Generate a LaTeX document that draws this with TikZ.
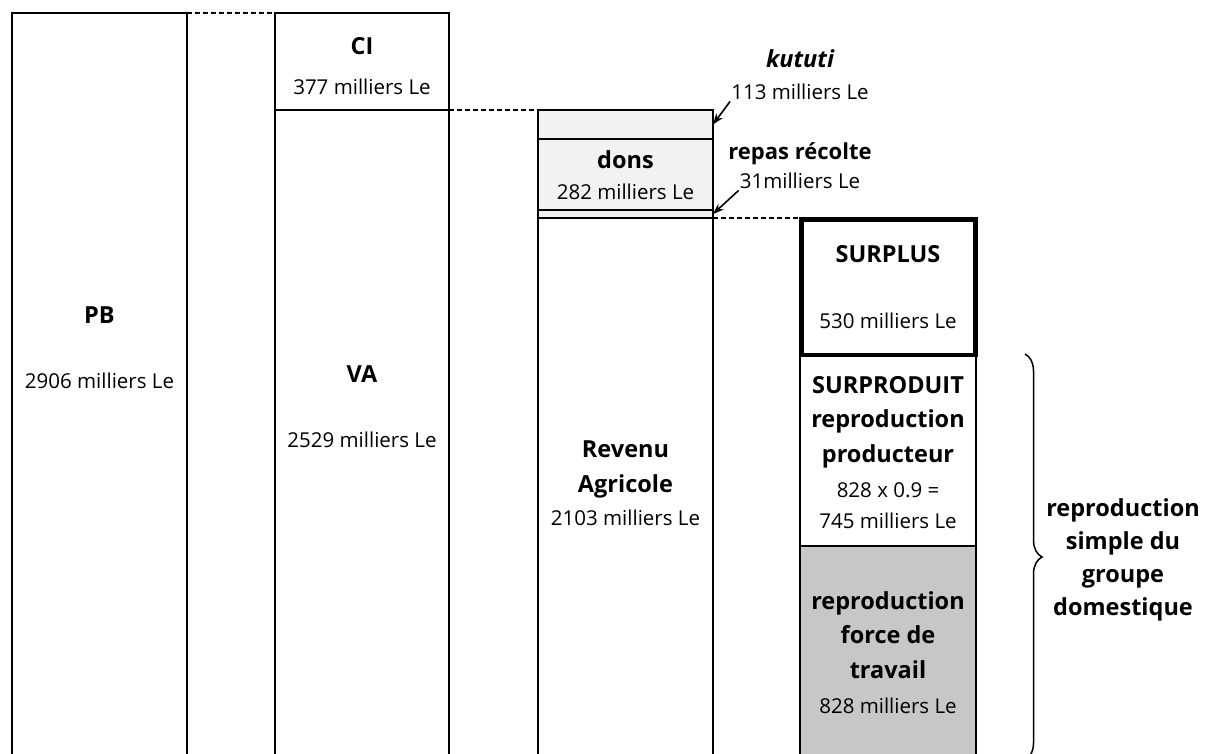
\documentclass[tikz,border=0pt]{standalone}
\usepackage{fontspec}
\setmainfont{Open Sans}
\usetikzlibrary{positioning, arrows.meta, decorations.pathreplacing}

\colorlet{rule}{black}
\colorlet{H1}{black!5}
\colorlet{H2}{black!22}
\tikzset{
  bar/.style      ={draw=rule, line width=1.4pt, anchor=north west,
                    inner sep=0pt, outer sep=0pt, minimum width=175pt},
  bar-light/.style={bar, fill=H1},
  bar-dark/.style ={bar, fill=H2},
  bar-thick/.style={bar, line width=4.5pt},
  ttl/.style      ={font=\fontsize{23.5}{34.5}\selectfont\bfseries,
                    align=center, inner sep=1pt, anchor=base},
  val/.style      ={font=\fontsize{20.5}{31}\selectfont,
                    align=center, inner sep=1pt, anchor=base},
  link/.style     ={rule, line width=1.5pt, dash pattern=on 5pt off 3pt},
  pointer/.style  ={-{Stealth[length=11pt, width=8pt]}, rule, line width=1.6pt},
  bracket/.style  ={decorate, decoration={brace, amplitude=17pt},
                    rule, line width=1.5pt},
}

\begin{document}
\begin{tikzpicture}[x=1pt, y=-1pt]
\useasboundingbox (0,0) rectangle (1206,754);
\clip (0,0) rectangle (1206,754);

% columns
\node[bar, minimum height=760pt] (PB) at (12,13) {};
\node[bar, minimum width=174pt, minimum height=97pt] (CI) at (275,13) {};
\node[bar, minimum width=174pt, minimum height=660pt] (VA) at (CI.south west) {};

\node[bar-light, minimum height=29pt] (KUT) at (538,110) {};
\node[bar-light, minimum height=71pt] (DONS) at (KUT.south west) {};
\node[bar-light, minimum height=8pt] (REP) at (DONS.south west) {};
\node[bar, minimum height=560pt] (RA) at (REP.south west) {};

\node[bar, minimum width=176pt, minimum height=191pt] (SPROD) at (800,355) {};
\node[bar-dark, minimum width=176pt, minimum height=220pt] (FT) at (SPROD.south west) {};
\node[bar-thick, minimum width=174pt, minimum height=135.5pt] (SPL) at (801.5,219.5) {};

% dashed links
\draw[link] (PB.north east) -- (CI.north west);
\draw[link] (CI.south east) -- (KUT.north west);
\draw[link] (REP.south east) -- (REP.south east -| SPL.west);

% labels (anchor = baseline of last line)
\node[ttl] (PBt) at (99.5,323) {PB};
\node[val] (PBv) at (99.5,388) {2906 milliers Le};
\node[ttl] (CIt) at (362,55) {CI};
\node[val] (CIv) at (362,95) {377 milliers Le};
\node[ttl] (VAt) at (362,382) {VA};
\node[val] (VAv) at (362,447) {2529 milliers Le};
\node[ttl] (DONSt) at (625.5,168) {dons};
\node[val] (DONSv) at (625.5,200) {282 milliers Le};
\node[ttl] (RAt) at (625.5,492) {Revenu\\Agricole};
\node[val] (RAv) at (625.5,525) {2103 milliers Le};
\node[ttl] (SPLt) at (888,262) {SURPLUS};
\node[val] (SPLv) at (888,328) {530 milliers Le};
\node[ttl] (SPRODt) at (888,462) {SURPRODUIT\\reproduction\\producteur};
\node[val] (SPRODv) at (888,528) {828 x 0.9 =\\745 milliers Le};
\node[ttl] (FTt) at (888,678) {reproduction\\force de\\travail};
\node[val] (FTv) at (888,713) {828 milliers Le};

% side notes
\node[ttl, font=\fontsize{23.5}{34.5}\selectfont\bfseries\itshape] (KUTt) at (800,68) {kututi};
\node[val] (KUTv) at (800,100) {113 milliers Le};
\node[ttl, font=\fontsize{22}{34.5}\selectfont\bfseries] (REPt) at (800,160) {repas récolte};
\node[val] (REPv) at (800,189) {31milliers Le};
\draw[pointer] (KUTv.south west) -- (KUT.east);
\draw[pointer] (REPv.south west) -- (REP.east);

% brace
\coordinate (brA) at (1025,354);
\coordinate (brB) at (1025,760);
\draw[bracket] (brA) -- (brB);
\node[ttl, font=\fontsize{23.5}{33}\selectfont\bfseries] (GRPt) at (1123,615)
  {reproduction\\simple du\\groupe\\domestique};

\end{tikzpicture}
\end{document}
